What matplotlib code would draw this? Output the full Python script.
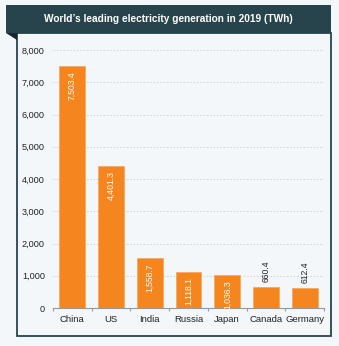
import matplotlib.pyplot as plt
from matplotlib.patches import Rectangle, Polygon

countries = ["China", "US", "India", "Russia", "Japan", "Canada", "Germany"]
generation = [7503.4, 4401.3, 1558.7, 1118.1, 1036.3, 660.4, 612.4]
value_labels = ["7,503.4", "4,401.3", "1,558.7", "1,118.1", "1,036.3", "660.4", "612.4"]
inside = [True, True, True, True, True, False, False]
yticks = [0, 1000, 2000, 3000, 4000, 5000, 6000, 7000, 8000]

plt.rcParams['font.family'] = ['Liberation Sans', 'DejaVu Sans']

W, H = 339, 346
bg = "#f3f7f9"
teal = "#27444d"
orange = "#f5861f"

fig = plt.figure(figsize=(W / 100, H / 100), dpi=100, facecolor=bg)

def fx(px):
    return px / W

def fy(py):
    return 1 - py / H

# frame around the chart
fig.patches.append(Rectangle((fx(17), fy(336)), fx(331) - fx(17), fy(33) - fy(336),
                             transform=fig.transFigure, facecolor=bg,
                             edgecolor=teal, linewidth=1.3, zorder=-2))
# title banner with folded corner
fig.patches.append(Rectangle((fx(6), fy(33)), fx(331) - fx(6), fy(5) - fy(33),
                             transform=fig.transFigure, facecolor=teal,
                             edgecolor="none", zorder=-1))
fig.patches.append(Polygon([(fx(6), fy(33)), (fx(17), fy(33)), (fx(17), fy(40))],
                           closed=True, transform=fig.transFigure,
                           facecolor="#16262c", edgecolor="none", zorder=-1))
fig.text(fx(168), fy(19.5), "World\u2019s leading electricity generation in 2019 (TWh)",
         color="white", fontsize=7.3, fontweight="bold", ha="center", va="center")

ax = fig.add_axes([fx(53), fy(308), fx(324) - fx(53), fy(50) - fy(308)])
ax.set_facecolor("none")
ax.set_zorder(2)

x = list(range(len(countries)))
ax.bar(x, generation, width=0.67, color=orange, edgecolor="#f7a35a",
       linewidth=0.5, zorder=3)

for xi, v, lab, ins in zip(x, generation, value_labels, inside):
    if ins:
        ax.text(xi, v - 170, lab, rotation=90, ha="center", va="top",
                color="white", fontsize=6.2, zorder=4)
    else:
        ax.text(xi, v + 150, lab, rotation=90, ha="center", va="bottom",
                color="#222222", fontsize=6.2, zorder=4)

ax.set_xlim(-0.5, len(countries) - 0.5)
ax.set_ylim(0, 8000)
ax.set_yticks(yticks)
ax.set_yticklabels([f"{t:,}" for t in yticks])
ax.set_xticks(x)
ax.set_xticklabels(countries)
ax.tick_params(axis="x", length=0, labelsize=6.8, pad=5, colors="#222222")
ax.tick_params(axis="y", length=0, labelsize=6.6, pad=5.8, colors="#222222")

# small ticks at the category boundaries
ax.set_xticks([i - 0.5 for i in range(len(countries) + 1)], minor=True)
ax.tick_params(axis="x", which="minor", length=2.5, color="#999999", width=0.8)

ax.yaxis.grid(True, color="#cfd3d6", linestyle=(0, (2, 2)), linewidth=0.6, zorder=0)
ax.set_axisbelow(True)
for s in ["top", "right", "left"]:
    ax.spines[s].set_visible(False)
ax.spines["bottom"].set_color("#999999")
ax.spines["bottom"].set_linewidth(0.8)

fig.savefig("out.png", dpi=100, facecolor=bg)
